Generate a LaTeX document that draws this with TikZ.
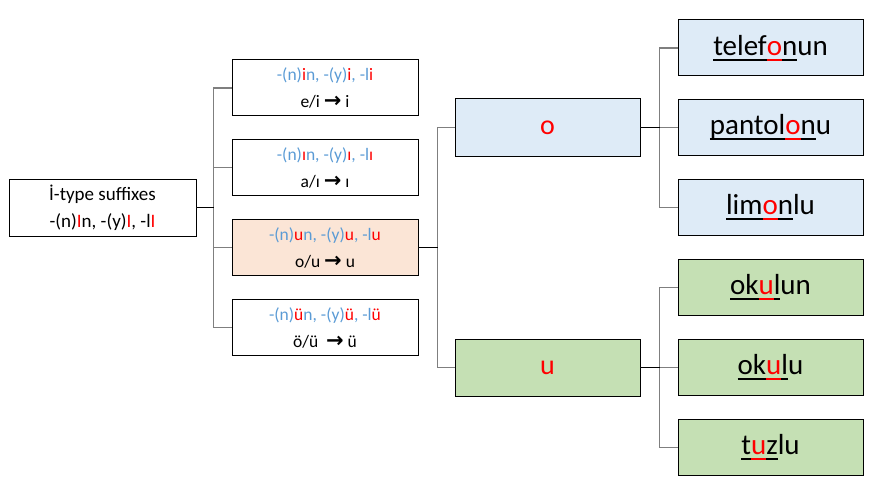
\documentclass[tikz,border=0pt]{standalone}
\usepackage{fontspec}
\setmainfont{Carlito}
\newfontfamily\arrowfont{DejaVu Sans}
\usetikzlibrary{positioning}
\definecolor{sufblue}{HTML}{5B9BD5}
\definecolor{hired}{HTML}{FF0000}
\definecolor{ofill}{HTML}{DEEBF7}
\definecolor{ufill}{HTML}{C5E0B4}
\definecolor{pfill}{HTML}{FBE5D6}
\definecolor{treegray}{HTML}{7F7F7F}
\newcommand{\hv}[1]{\textcolor{hired}{#1}}
\newcommand{\ulx}[1]{\setbox0\hbox{#1}\rlap{\rule[-5.5pt]{\wd0}{2.2pt}}\box0}
\newcommand{\ulr}[1]{{\color{hired}\ulx{#1}}}
\newcommand{\goesto}{{\arrowfont\bfseries\fontsize{21}{27}\selectfont →}}

\begin{document}
\begin{tikzpicture}[x=1pt, y=-1pt,
  box/.style={draw, line width=1pt, align=center, inner sep=0pt},
  rootbox/.style={box, minimum width=187pt, minimum height=57pt,
    font=\fontsize{19}{27}\selectfont},
  sufbox/.style={box, minimum width=186pt, minimum height=56pt,
    font=\fontsize{17.5}{27}\selectfont},
  vowel/.style={box, minimum width=185pt, minimum height=57pt,
    text=hired, font=\fontsize{28}{32}\selectfont},
  word/.style={box, minimum width=185pt, minimum height=56pt,
    font=\fontsize{29}{32}\selectfont},
  tree/.style={draw=treegray, line width=1.4pt}
]
  \useasboundingbox (0,0) rectangle (896,484);

  % Root
  \node[rootbox] (root) at (102.5, 207.5)
    {İ-type suffixes\\-(n)\hv{I}n, -(y)\hv{I}, -l\hv{I}};

  % Suffix groups
  \node[sufbox] (s1) at (325, 88)
    {{\color{sufblue}-(n)\hv{i}n, -(y)\hv{i}, -l\hv{i}}\\e/i \goesto{} i};
  \node[sufbox] (s2) at (325, 167.5)
    {{\color{sufblue}-(n)\hv{ı}n, -(y)\hv{ı}, -l\hv{ı}}\\a/ı \goesto{} ı};
  \node[sufbox, fill=pfill] (s3) at (325, 247.5)
    {{\color{sufblue}-(n)\hv{u}n, -(y)\hv{u}, -l\hv{u}}\\o/u \goesto{} u};
  \node[sufbox] (s4) at (325, 327.5)
    {{\color{sufblue}-(n)\hv{ü}n, -(y)\hv{ü}, -l\hv{ü}}\\ö/ü \ \goesto{} ü};

  % Last vowel
  \node[vowel, fill=ofill] (o) at (547.5, 127.5) {o};
  \node[vowel, fill=ufill] (u) at (547.5, 367.5) {u};

  % Examples
  \node[word, fill=ofill] (telefonun) at (770.5, 48)
    {\ulx{telef}\ulr{o}\ulx{n}un};
  \node[word, fill=ofill] (pantolonu) at (770.5, 127.5)
    {\ulx{pantol}\ulr{o}\ulx{n}u};
  \node[word, fill=ofill] (limonlu) at (770.5, 207.5)
    {\ulx{lim}\ulr{o}\ulx{n}lu};
  \node[word, fill=ufill] (okulun) at (770.5, 287.5)
    {\ulx{ok}\ulr{u}\ulx{l}un};
  \node[word, fill=ufill] (okulu) at (770.5, 367.5)
    {\ulx{ok}\ulr{u}\ulx{l}u};
  \node[word, fill=ufill] (tuzlu) at (770.5, 447.5)
    {\ulx{t}\ulr{u}\ulx{z}lu};

  % Brackets
  \foreach \n in {s1,s2,s3,s4}
    \draw[tree] (root.east) -- ++(17,0) |- (\n.west);
  \foreach \n in {o,u}
    \draw[tree] (s3.east) -- ++(19,0) |- (\n.west);
  \foreach \n in {telefonun,pantolonu,limonlu}
    \draw[tree] (o.east) -- ++(19,0) |- (\n.west);
  \foreach \n in {okulun,okulu,tuzlu}
    \draw[tree] (u.east) -- ++(19,0) |- (\n.west);
  \draw[line width=1.4pt] (root.east) -- ++(17,0);
  \draw[line width=1.4pt] (s3.east) -- ++(19,0);
  \draw[line width=1.4pt] (o.east) -- ++(19,0);
  \draw[line width=1.4pt] (u.east) -- ++(19,0);
\end{tikzpicture}
\end{document}
